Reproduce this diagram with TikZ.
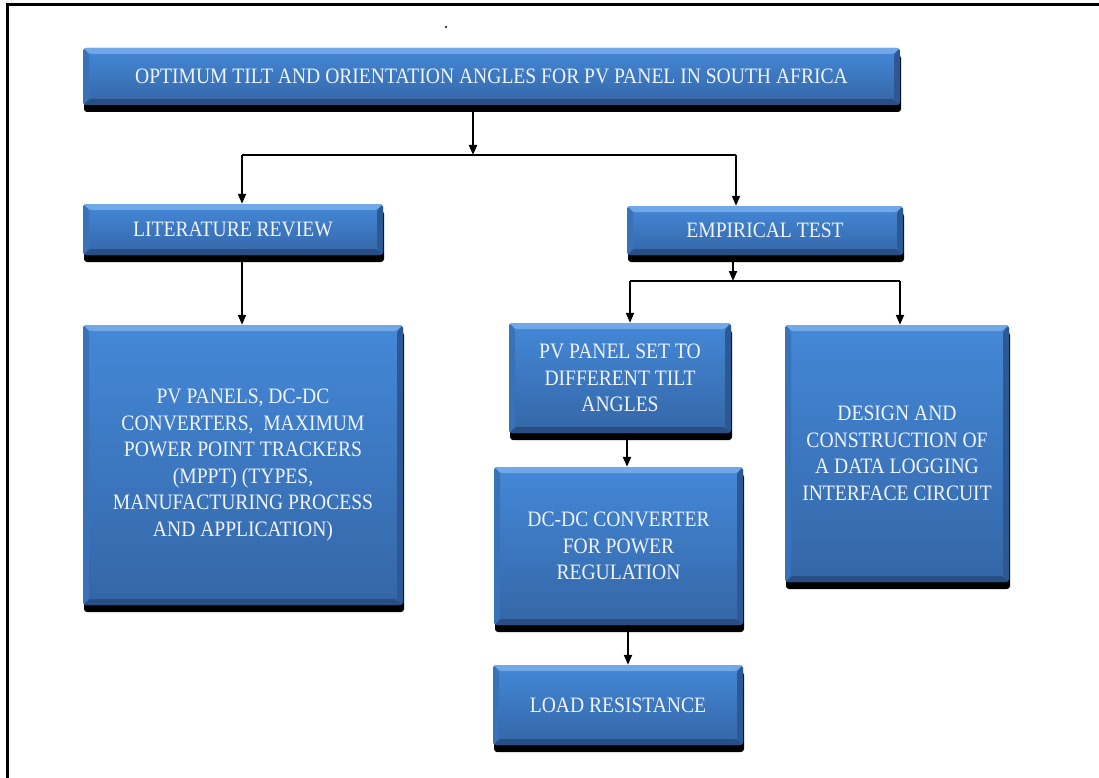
\documentclass[tikz,border=0pt]{standalone}
\usepackage{fontspec}
\usetikzlibrary{arrows.meta,shadows}
\newfontfamily\boxfont[FakeStretch=0.89]{Liberation Serif}
\definecolor{boxtop}{RGB}{68,136,216}
\definecolor{boxbot}{RGB}{52,102,166}
\definecolor{bevtop}{RGB}{112,168,232}
\definecolor{bevbot}{RGB}{40,78,132}
\definecolor{bevleft}{RGB}{58,114,186}
\definecolor{bevright}{RGB}{44,88,148}
\definecolor{txt}{RGB}{240,244,252}
\tikzset{
  box/.style={rounded corners=3pt, text=txt, align=center, inner sep=0pt,
    font={\boxfont\fontsize{22}{26.5}\selectfont},
    general shadow={fill=black, shadow yshift=-7pt, shadow xshift=1pt},
    path picture={
      \coordinate (bl) at (path picture bounding box.south west);
      \coordinate (tr) at (path picture bounding box.north east);
      \coordinate (tl) at (bl |- tr);
      \coordinate (br) at (tr |- bl);
      \shade[top color=boxtop, bottom color=boxbot] (bl) rectangle (tr);
      \fill[bevtop] (tl) -- (tr) -- ([shift={(-6pt,-6pt)}]tr) -- ([shift={(6pt,-6pt)}]tl) -- cycle;
      \fill[bevbot] (bl) -- (br) -- ([shift={(-6pt,6pt)}]br) -- ([shift={(6pt,6pt)}]bl) -- cycle;
      \fill[bevleft] (bl) -- (tl) -- ([shift={(6pt,-6pt)}]tl) -- ([shift={(6pt,6pt)}]bl) -- cycle;
      \fill[bevright] (br) -- (tr) -- ([shift={(-6pt,-6pt)}]tr) -- ([shift={(-6pt,6pt)}]br) -- cycle;
    }},
  conn/.style={line width=2pt, black},
  arr/.style={conn, -{Triangle[length=10pt,width=8pt]}},
}
\begin{document}
\begin{tikzpicture}[x=1pt,y=-1pt]
\useasboundingbox (0,0) rectangle (1099,778);
% frame
\draw[line width=3pt] (1099,5) -- (7,5) -- (7,778);
\node[circle, fill=black, inner sep=0.8pt] (dot) at (446,27) {};

% boxes
\node[box, minimum width=817pt, minimum height=57pt] (top) at (491.5,76.5)
  {OPTIMUM TILT AND ORIENTATION ANGLES FOR PV PANEL IN SOUTH AFRICA};
\node[box, minimum width=300pt, minimum height=51pt] (lit) at (233,229.5) {LITERATURE REVIEW};
\node[box, minimum width=276pt, minimum height=49pt] (emp) at (765,230.5) {EMPIRICAL TEST};
\node[box, minimum width=320pt, minimum height=280pt] (big) at (243,465)
  {PV PANELS, DC-DC\\CONVERTERS,~ MAXIMUM\\POWER POINT TRACKERS\\(MPPT) (TYPES,\\MANUFACTURING PROCESS\\AND APPLICATION)};
\node[box, minimum width=222pt, minimum height=110pt] (pv) at (620,378)
  {PV PANEL SET TO\\DIFFERENT TILT\\ANGLES};
\node[box, minimum width=249pt, minimum height=158pt] (dc) at (618.5,546)
  {DC-DC CONVERTER\\FOR POWER\\REGULATION};
\node[box, minimum width=224pt, minimum height=257pt] (design) at (897,453.5)
  {DESIGN AND\\CONSTRUCTION OF\\A DATA LOGGING\\INTERFACE CIRCUIT};
\node[box, minimum width=250pt, minimum height=80pt] (load) at (618,705) {LOAD RESISTANCE};

% connectors from top
\coordinate (j1) at (473,155);
\coordinate (j1l) at (242,155);
\coordinate (j1r) at (736,155);
\draw[arr] (top.south -| j1) -- (j1);
\draw[conn] (j1l) -- (j1r);
\draw[arr] (j1l) -- (j1l |- lit.north);
\draw[arr] (j1r) -- (j1r |- emp.north);
\draw[arr] (lit.south -| j1l) -- (j1l |- big.north);

% connectors from empirical test
\coordinate (j2) at (733,281);
\coordinate (j2l) at (630,281);
\coordinate (j2r) at (900,281);
\draw[arr] (emp.south -| j2) -- (j2);
\draw[conn] (j2l) -- (j2r);
\draw[arr] (j2l) -- (j2l |- pv.north);
\draw[arr] (j2r) -- (j2r |- design.north);

\coordinate (c3) at (627,0);
\draw[arr] (pv.south -| c3) -- (dc.north -| c3);
\coordinate (c4) at (628,0);
\draw[arr] (dc.south -| c4) -- (load.north -| c4);
\end{tikzpicture}
\end{document}
